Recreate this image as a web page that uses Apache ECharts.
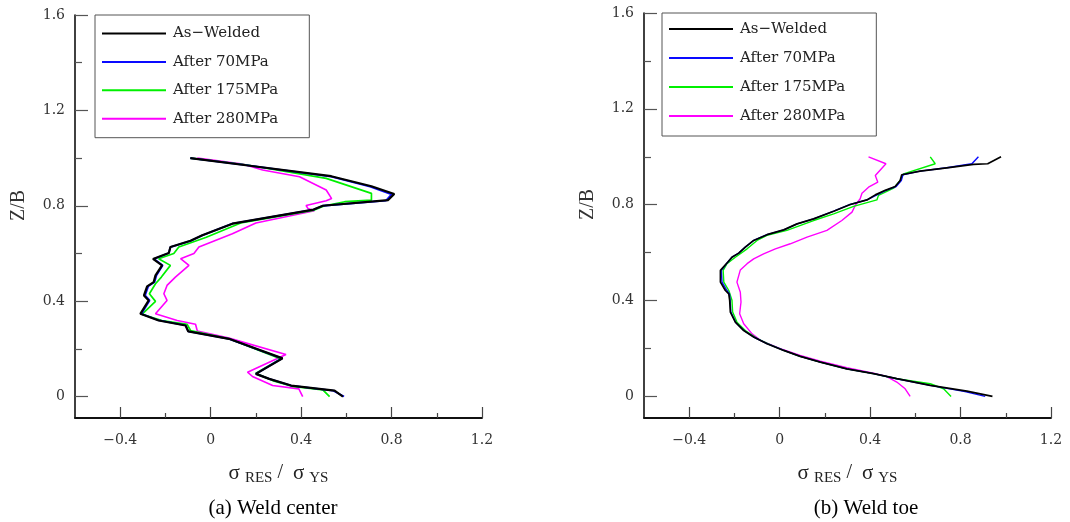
<!DOCTYPE html>
<html>
<head>
<meta charset="utf-8">
<script src="https://cdn.jsdelivr.net/npm/echarts@6/dist/echarts.min.js"></script>
<style>
  html, body { margin: 0; padding: 0; background: #fff; }
  #chart { width: 1070px; height: 522px; }
</style>
</head>
<body>
<div id="chart"></div>
<script>
// Residual stress profiles through the plate depth, normalised by yield stress.
const seriesNames = ['As\u2212Welded', 'After 70MPa', 'After 175MPa', 'After 280MPa'];
const seriesColors = ['#000000', '#0a0aff', '#00f000', '#ff00ff'];
const xLabelValues = [-0.4, 0, 0.4, 0.8, 1.2];
const xMinorValues = [-0.2, 0.2, 0.6, 1.0];
const yLabelValues = [0, 0.4, 0.8, 1.2, 1.6];
const yMinorValues = [0.2, 0.6, 1.0, 1.4];
const captions = ['(a) Weld center', '(b) Weld toe'];

// (a) weld center: [sigma_RES/sigma_YS, Z/B]
const centerAsWelded = [
  [-0.09, 1.0], [0.156, 0.97], [0.533, 0.924], [0.711, 0.882], [0.812, 0.849], [0.785, 0.824],
  [0.496, 0.80], [0.455, 0.784], [0.096, 0.725], [-0.037, 0.676], [-0.089, 0.653], [-0.178, 0.627],
  [-0.185, 0.602], [-0.255, 0.577], [-0.215, 0.55], [-0.244, 0.508], [-0.252, 0.48], [-0.281, 0.462],
  [-0.295, 0.424], [-0.274, 0.403], [-0.311, 0.347], [-0.23, 0.319], [-0.111, 0.298], [-0.099, 0.273],
  [0.081, 0.242], [0.318, 0.16], [0.2, 0.095], [0.259, 0.074], [0.356, 0.046], [0.548, 0.025], [0.585, 0.0]
];
const center70 = [
  [-0.09, 1.0], [0.156, 0.97], [0.533, 0.922], [0.705, 0.88], [0.80, 0.848], [0.775, 0.822],
  [0.496, 0.80], [0.455, 0.784], [0.096, 0.725], [-0.037, 0.676], [-0.089, 0.653], [-0.178, 0.627],
  [-0.185, 0.602], [-0.25, 0.577], [-0.212, 0.55], [-0.24, 0.508], [-0.248, 0.48], [-0.276, 0.462],
  [-0.29, 0.424], [-0.27, 0.403], [-0.306, 0.347], [-0.228, 0.319], [-0.111, 0.298], [-0.099, 0.273],
  [0.081, 0.242], [0.315, 0.16], [0.2, 0.095], [0.259, 0.074], [0.356, 0.046], [0.54, 0.025], [0.59, 0.0]
];
const center175 = [
  [-0.09, 1.0], [0.148, 0.973], [0.511, 0.915], [0.711, 0.852], [0.711, 0.824], [0.593, 0.817],
  [0.504, 0.80], [0.459, 0.782], [0.133, 0.728], [-0.022, 0.667], [-0.141, 0.627], [-0.163, 0.60],
  [-0.23, 0.578], [-0.178, 0.55], [-0.218, 0.501], [-0.244, 0.473], [-0.271, 0.431], [-0.244, 0.399],
  [-0.304, 0.345], [-0.215, 0.319], [-0.104, 0.303], [-0.089, 0.277], [0.081, 0.242], [0.311, 0.158],
  [0.2, 0.098], [0.274, 0.067], [0.363, 0.042], [0.496, 0.028], [0.526, 0.0]
];
const center280 = [
  [-0.059, 1.0], [0.141, 0.975], [0.23, 0.95], [0.393, 0.922], [0.511, 0.866], [0.535, 0.83],
  [0.511, 0.821], [0.422, 0.801], [0.43, 0.789], [0.459, 0.779], [0.2, 0.728], [0.096, 0.683],
  [-0.052, 0.627], [-0.074, 0.60], [-0.133, 0.578], [-0.096, 0.55], [-0.156, 0.501], [-0.193, 0.466],
  [-0.207, 0.431], [-0.193, 0.403], [-0.244, 0.347], [-0.148, 0.319], [-0.067, 0.303], [-0.059, 0.275],
  [0.081, 0.245], [0.333, 0.176], [0.163, 0.102], [0.185, 0.084], [0.274, 0.046], [0.39, 0.032], [0.407, 0.0]
];

// (b) weld toe
const toeAsWelded = [
  [0.979, 1.0], [0.92, 0.971], [0.857, 0.968], [0.739, 0.954], [0.621, 0.94], [0.54, 0.925],
  [0.533, 0.901], [0.511, 0.876], [0.467, 0.86], [0.423, 0.841], [0.386, 0.82], [0.312, 0.801],
  [0.239, 0.773], [0.15, 0.741], [0.077, 0.72], [0.018, 0.695], [-0.056, 0.675], [-0.115, 0.651],
  [-0.152, 0.623], [-0.181, 0.598], [-0.211, 0.581], [-0.23, 0.56], [-0.262, 0.526], [-0.262, 0.477],
  [-0.24, 0.442], [-0.225, 0.428], [-0.221, 0.401], [-0.218, 0.352], [-0.196, 0.31], [-0.159, 0.275],
  [-0.115, 0.248], [-0.056, 0.22], [0.018, 0.192], [0.091, 0.167], [0.18, 0.143], [0.297, 0.115],
  [0.415, 0.095], [0.518, 0.074], [0.666, 0.046], [0.828, 0.022], [0.941, 0.0]
];
const toe70 = [
  [0.879, 1.0], [0.85, 0.971], [0.739, 0.954], [0.621, 0.94], [0.545, 0.925],
  [0.538, 0.901], [0.515, 0.876], [0.47, 0.86], [0.43, 0.841], [0.386, 0.82], [0.312, 0.801],
  [0.239, 0.773], [0.15, 0.741], [0.077, 0.72], [0.018, 0.695], [-0.056, 0.675], [-0.115, 0.651],
  [-0.152, 0.623], [-0.181, 0.598], [-0.211, 0.581], [-0.23, 0.56], [-0.258, 0.526], [-0.255, 0.477],
  [-0.233, 0.442], [-0.222, 0.428], [-0.219, 0.401], [-0.216, 0.352], [-0.195, 0.31], [-0.158, 0.275],
  [-0.115, 0.248], [-0.056, 0.22], [0.018, 0.192], [0.091, 0.167], [0.18, 0.143], [0.297, 0.115],
  [0.415, 0.095], [0.518, 0.074], [0.666, 0.046], [0.82, 0.02], [0.909, 0.0]
];
const toe175 = [
  [0.666, 1.0], [0.688, 0.971], [0.548, 0.929], [0.533, 0.901], [0.504, 0.869], [0.437, 0.839],
  [0.43, 0.82], [0.327, 0.793], [0.239, 0.762], [0.15, 0.734], [0.032, 0.693], [-0.056, 0.672],
  [-0.1, 0.651], [-0.144, 0.616], [-0.196, 0.581], [-0.233, 0.554], [-0.25, 0.526], [-0.247, 0.477],
  [-0.225, 0.442], [-0.211, 0.401], [-0.208, 0.352], [-0.189, 0.31], [-0.152, 0.275], [-0.1, 0.241],
  [-0.04, 0.215], [0.018, 0.192], [0.091, 0.167], [0.18, 0.143], [0.297, 0.115], [0.415, 0.095],
  [0.518, 0.074], [0.666, 0.053], [0.725, 0.032], [0.758, 0.0]
];
const toe280 = [
  [0.393, 1.0], [0.47, 0.971], [0.423, 0.922], [0.434, 0.894], [0.393, 0.873], [0.364, 0.848],
  [0.356, 0.825], [0.334, 0.797], [0.32, 0.769], [0.275, 0.734], [0.209, 0.693], [0.121, 0.665],
  [0.047, 0.637], [-0.019, 0.616], [-0.071, 0.595], [-0.115, 0.574], [-0.144, 0.554], [-0.174, 0.528],
  [-0.189, 0.477], [-0.174, 0.435], [-0.171, 0.394], [-0.177, 0.345], [-0.159, 0.303], [-0.122, 0.261],
  [-0.085, 0.234], [0.003, 0.199], [0.091, 0.171], [0.18, 0.147], [0.297, 0.12], [0.415, 0.097],
  [0.474, 0.083], [0.518, 0.06], [0.555, 0.032], [0.577, 0.0]
];

const panels = [
  { data: [centerAsWelded, center70, center175, center280], widths: [2.2, 1.8, 1.7, 1.6] },
  { data: [toeAsWelded, toe70, toe175, toe280], widths: [1.7, 1.4, 1.4, 1.4] }
];

const grids = [
  { left: 75, top: 15, width: 407, height: 403 },
  { left: 644, top: 13, width: 407, height: 405 }
];

const serif = 'DejaVu Serif';
const times = 'Liberation Serif';
const minus = v => String(v).replace('-', '\u2212');

const xMain = grids.map((g, i) => ({
  type: 'value', gridIndex: i, position: 'bottom', min: -0.6, max: 1.2, interval: 0.2,
  axisLine: { onZero: false, lineStyle: { color: '#111', width: 1.8 } },
  axisTick: { inside: true, length: 11, customValues: xLabelValues, lineStyle: { color: '#444', width: 1.2 } },
  axisLabel: { customValues: xLabelValues, formatter: minus, margin: 15, color: '#333', fontFamily: serif, fontSize: 14 },
  splitLine: { show: false },
  name: '{s|\u03c3}{sub|RES}{t|/}{s|\u03c3}{sub|YS}',
  nameLocation: 'middle', nameGap: 42,
  nameTextStyle: {
    rich: {
      s: { fontFamily: times, fontSize: 21, lineHeight: 26, verticalAlign: 'middle', color: '#222' },
      t: { fontFamily: times, fontSize: 20, lineHeight: 26, verticalAlign: 'middle', color: '#222', padding: [0, 10, 0, 5] },
      sub: { fontFamily: times, fontSize: 15, lineHeight: 17, verticalAlign: 'bottom', color: '#222', padding: [0, 0, 0, 5] }
    }
  }
}));
const xMinor = grids.map((g, i) => ({
  type: 'value', gridIndex: i, position: 'bottom', min: -0.6, max: 1.2, interval: 0.2,
  axisLine: { show: false, onZero: false },
  axisTick: { inside: true, length: 5, customValues: xMinorValues, lineStyle: { color: '#444', width: 1.2 } },
  axisLabel: { show: false }, splitLine: { show: false }
}));
const yMain = grids.map((g, i) => ({
  type: 'value', gridIndex: i, position: 'left', min: -0.09, max: 1.6,
  axisLine: { onZero: false, lineStyle: { color: '#111', width: 1.6 } },
  axisTick: { inside: true, length: 13, customValues: yLabelValues, lineStyle: { color: '#555', width: 1.2 } },
  axisLabel: { customValues: yLabelValues, margin: 10, color: '#333', fontFamily: serif, fontSize: 14 },
  splitLine: { show: false },
  name: 'Z/B', nameLocation: 'middle', nameGap: 46,
  nameTextStyle: { fontFamily: times, fontSize: 20, color: '#333', padding: [0, 0, 0, 22] }
}));
const yMinor = grids.map((g, i) => ({
  type: 'value', gridIndex: i, position: 'left', min: -0.09, max: 1.6,
  axisLine: { show: false, onZero: false },
  axisTick: { inside: true, length: 7, customValues: yMinorValues, lineStyle: { color: '#555', width: 1.2 } },
  axisLabel: { show: false }, splitLine: { show: false }
}));

const series = [];
panels.forEach((p, gi) => {
  // draw the heavier stress states first so the as-welded curve sits on top
  [3, 2, 1, 0].forEach(k => {
    series.push({
      type: 'line', name: seriesNames[k],
      xAxisIndex: gi, yAxisIndex: gi,
      data: p.data[k], symbol: 'none', silent: true, animation: false,
      lineStyle: { color: seriesColors[k], width: p.widths[k] },
      itemStyle: { color: seriesColors[k] }, z: 2 + (3 - k)
    });
  });
});

const legendBase = {
  orient: 'vertical', data: seriesNames, icon: 'rect', itemWidth: 64, itemHeight: 2,
  borderColor: '#555', borderWidth: 1, backgroundColor: '#fff',
  textStyle: { fontFamily: serif, fontSize: 15, lineHeight: 18, color: '#222', padding: [0, 0, 0, 2] },
  selectedMode: false
};

const option = {
  backgroundColor: '#fff',
  animation: false,
  grid: grids,
  xAxis: xMain.concat(xMinor),
  yAxis: yMain.concat(yMinor),
  legend: [
    Object.assign({}, legendBase, { left: 95, top: 15, itemGap: 10.4, padding: [9.5, 31, 10, 7] }),
    Object.assign({}, legendBase, { left: 662, top: 13, itemGap: 11, padding: [7, 31, 11, 7] })
  ],
  graphic: [
    { type: 'text', x: 273, y: 508, style: { text: captions[0], align: 'center', verticalAlign: 'middle', font: "21px 'Liberation Serif', serif", fill: '#000' } },
    { type: 'text', x: 866, y: 508, style: { text: captions[1], align: 'center', verticalAlign: 'middle', font: "21px 'Liberation Serif', serif", fill: '#000' } }
  ],
  series: series
};

const chart = echarts.init(document.getElementById('chart'));
chart.setOption(option);
</script>
</body>
</html>
